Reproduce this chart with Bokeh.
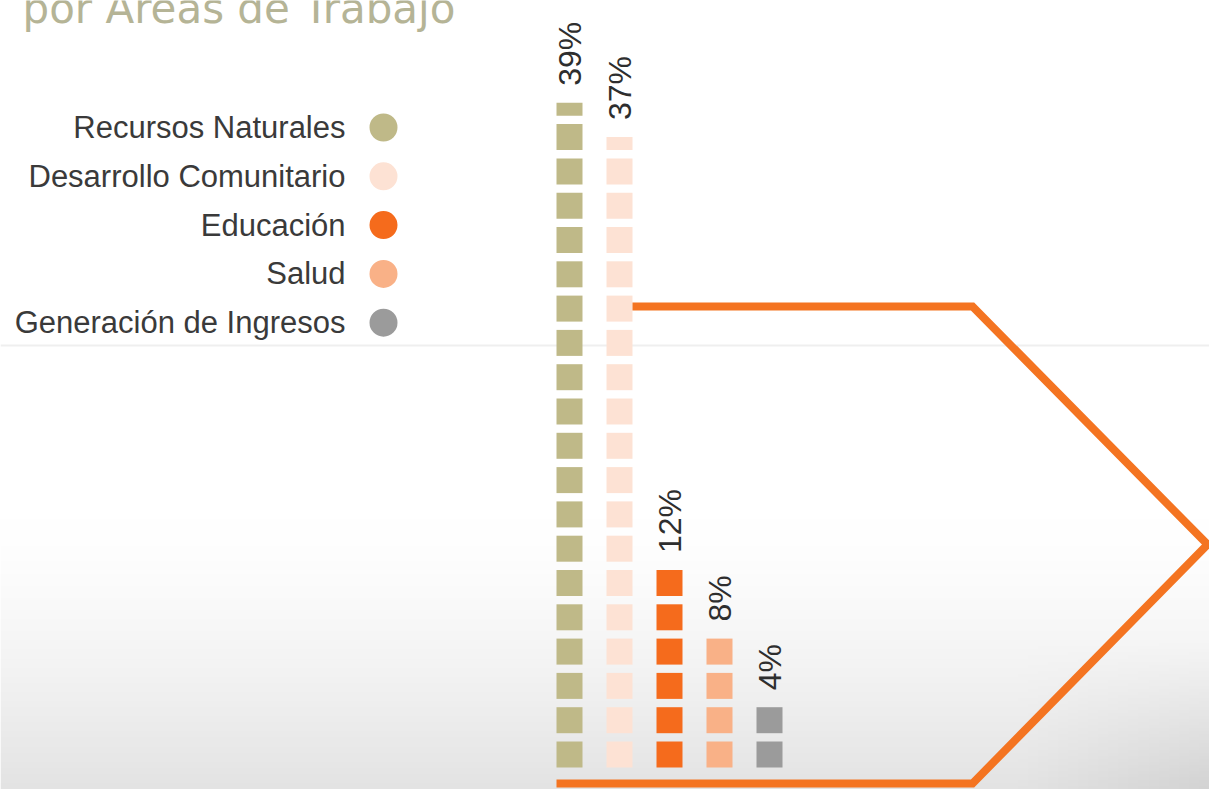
import math
import numpy as np
from bokeh.plotting import figure
from bokeh.models import Range1d, Label
from bokeh.core.properties import value
from bokeh.embed import file_html
from bokeh.resources import INLINE

# ---------------- data ----------------
categories = ["Recursos Naturales", "Desarrollo Comunitario", "Educación",
              "Salud", "Generación de Ingresos"]
values = [39, 37, 12, 8, 4]
pct_labels = ["39%", "37%", "12%", "8%", "4%"]
colors = ["#BFB988", "#FDE2D4", "#F56B1C", "#F9B187", "#9B9B9B"]
title_text = "por Áreas de Trabajo"
PCT_PER_SQUARE = 2

# ---------------- geometry ----------------
W, H = 1209, 789
M = 0
X0_PX, COL_PX = 569, 50    # first column centre, column pitch (px)
Y0_PX, PCT_PX = 767, 17.15 # 0% baseline, px per percent
SQ_PX = 26                 # square side


def dx(px):
    return (px - X0_PX) / COL_PX


def dy(py):
    return (Y0_PX - py) / PCT_PX


p = figure(width=W, height=H,
           x_range=Range1d(dx(M), dx(M + W)),
           y_range=Range1d(dy(M + H), dy(M)),
           output_backend="svg", toolbar_location=None, min_border=0)
p.axis.visible = False
p.grid.visible = False
p.outline_line_color = None
p.background_fill_color = "white"
p.border_fill_color = "white"

# ---------------- background gradient ----------------
ny, nx = 260, 120
rows = (M + H) - (np.arange(ny) + 0.5) * H / ny
cols = M + (np.arange(nx) + 0.5) * W / nx
PY, PX = np.meshgrid(rows, cols, indexing="ij")
t = np.clip((PY - 520) / (789 - 520), 0, 1)
v = 1 - 0.11 * t ** 1.4
extra = 0.06 * np.clip((PX - 1020) / 180, 0, 1) * np.clip((PY - 640) / 140, 0, 1)
g = np.clip(255 * (v - extra), 0, 255).astype(np.uint8)
img = np.empty((ny, nx), dtype=np.uint32)
view = img.view(dtype=np.uint8).reshape((ny, nx, 4))
view[..., 0] = g
view[..., 1] = g
view[..., 2] = g
view[..., 3] = 255
p.image_rgba(image=[img], x=dx(M), y=dy(M + H), dw=W / COL_PX, dh=H / PCT_PX)

# faint horizontal rule
p.line(x=[dx(M), dx(M + W)], y=[dy(345), dy(345)], line_color="#EFEFEF", line_width=2)

# ---------------- squares ----------------
sq_w = SQ_PX / COL_PX
sq_h = SQ_PX / PCT_PX
L, R, B, T, C = [], [], [], [], []
tops = []
for i, val in enumerate(values):
    n = math.ceil(val / PCT_PER_SQUARE)
    top = 0
    for k in range(n):
        frac = min(1.0, (val - PCT_PER_SQUARE * k) / PCT_PER_SQUARE)
        b = PCT_PER_SQUARE * k
        top = b + sq_h * frac
        L.append(i - sq_w / 2)
        R.append(i + sq_w / 2)
        B.append(b)
        T.append(top)
        C.append(colors[i])
    tops.append(top)
p.quad(left=L, right=R, bottom=B, top=T, fill_color=C, line_color=None)

# percentage labels (rotated)
p.text(x=list(range(len(values))), y=[t_ + 17 / PCT_PX for t_ in tops], text=pct_labels,
       angle=math.pi / 2, text_align="left", text_baseline="middle",
       text_font=value("Liberation Sans"), text_font_size="32px", text_color="#2E2E2E")

# ---------------- orange bracket ----------------
path_px_x = [632, 972, 1207, 972, 556]
path_px_y = [306, 306, 544, 783, 783]
p.line(x=[dx(a) for a in path_px_x], y=[dy(b) for b in path_px_y],
       line_color="#F47421", line_width=8, line_join="miter")

# ---------------- legend ----------------
leg_y = [dy(127 + 48.8 * i) for i in range(len(categories))]
p.text(x=[dx(345)] * len(categories), y=leg_y, text=categories,
       text_align="right", text_baseline="middle",
       text_font=value("Liberation Sans"), text_font_size="31px", text_color="#3A3A3A")
p.scatter(x=[dx(383)] * len(categories), y=leg_y, size=28, fill_color=colors,
          line_color=None)

# ---------------- title ----------------
p.add_layout(Label(x=22 - M, y=(M + H) - 8, x_units="screen", y_units="screen",
                   text=title_text, text_font="DejaVu Sans", text_font_size="42px",
                   text_color="#B5B496", text_baseline="alphabetic", text_align="left"))

open("out.html", "w").write(file_html(p, INLINE))
